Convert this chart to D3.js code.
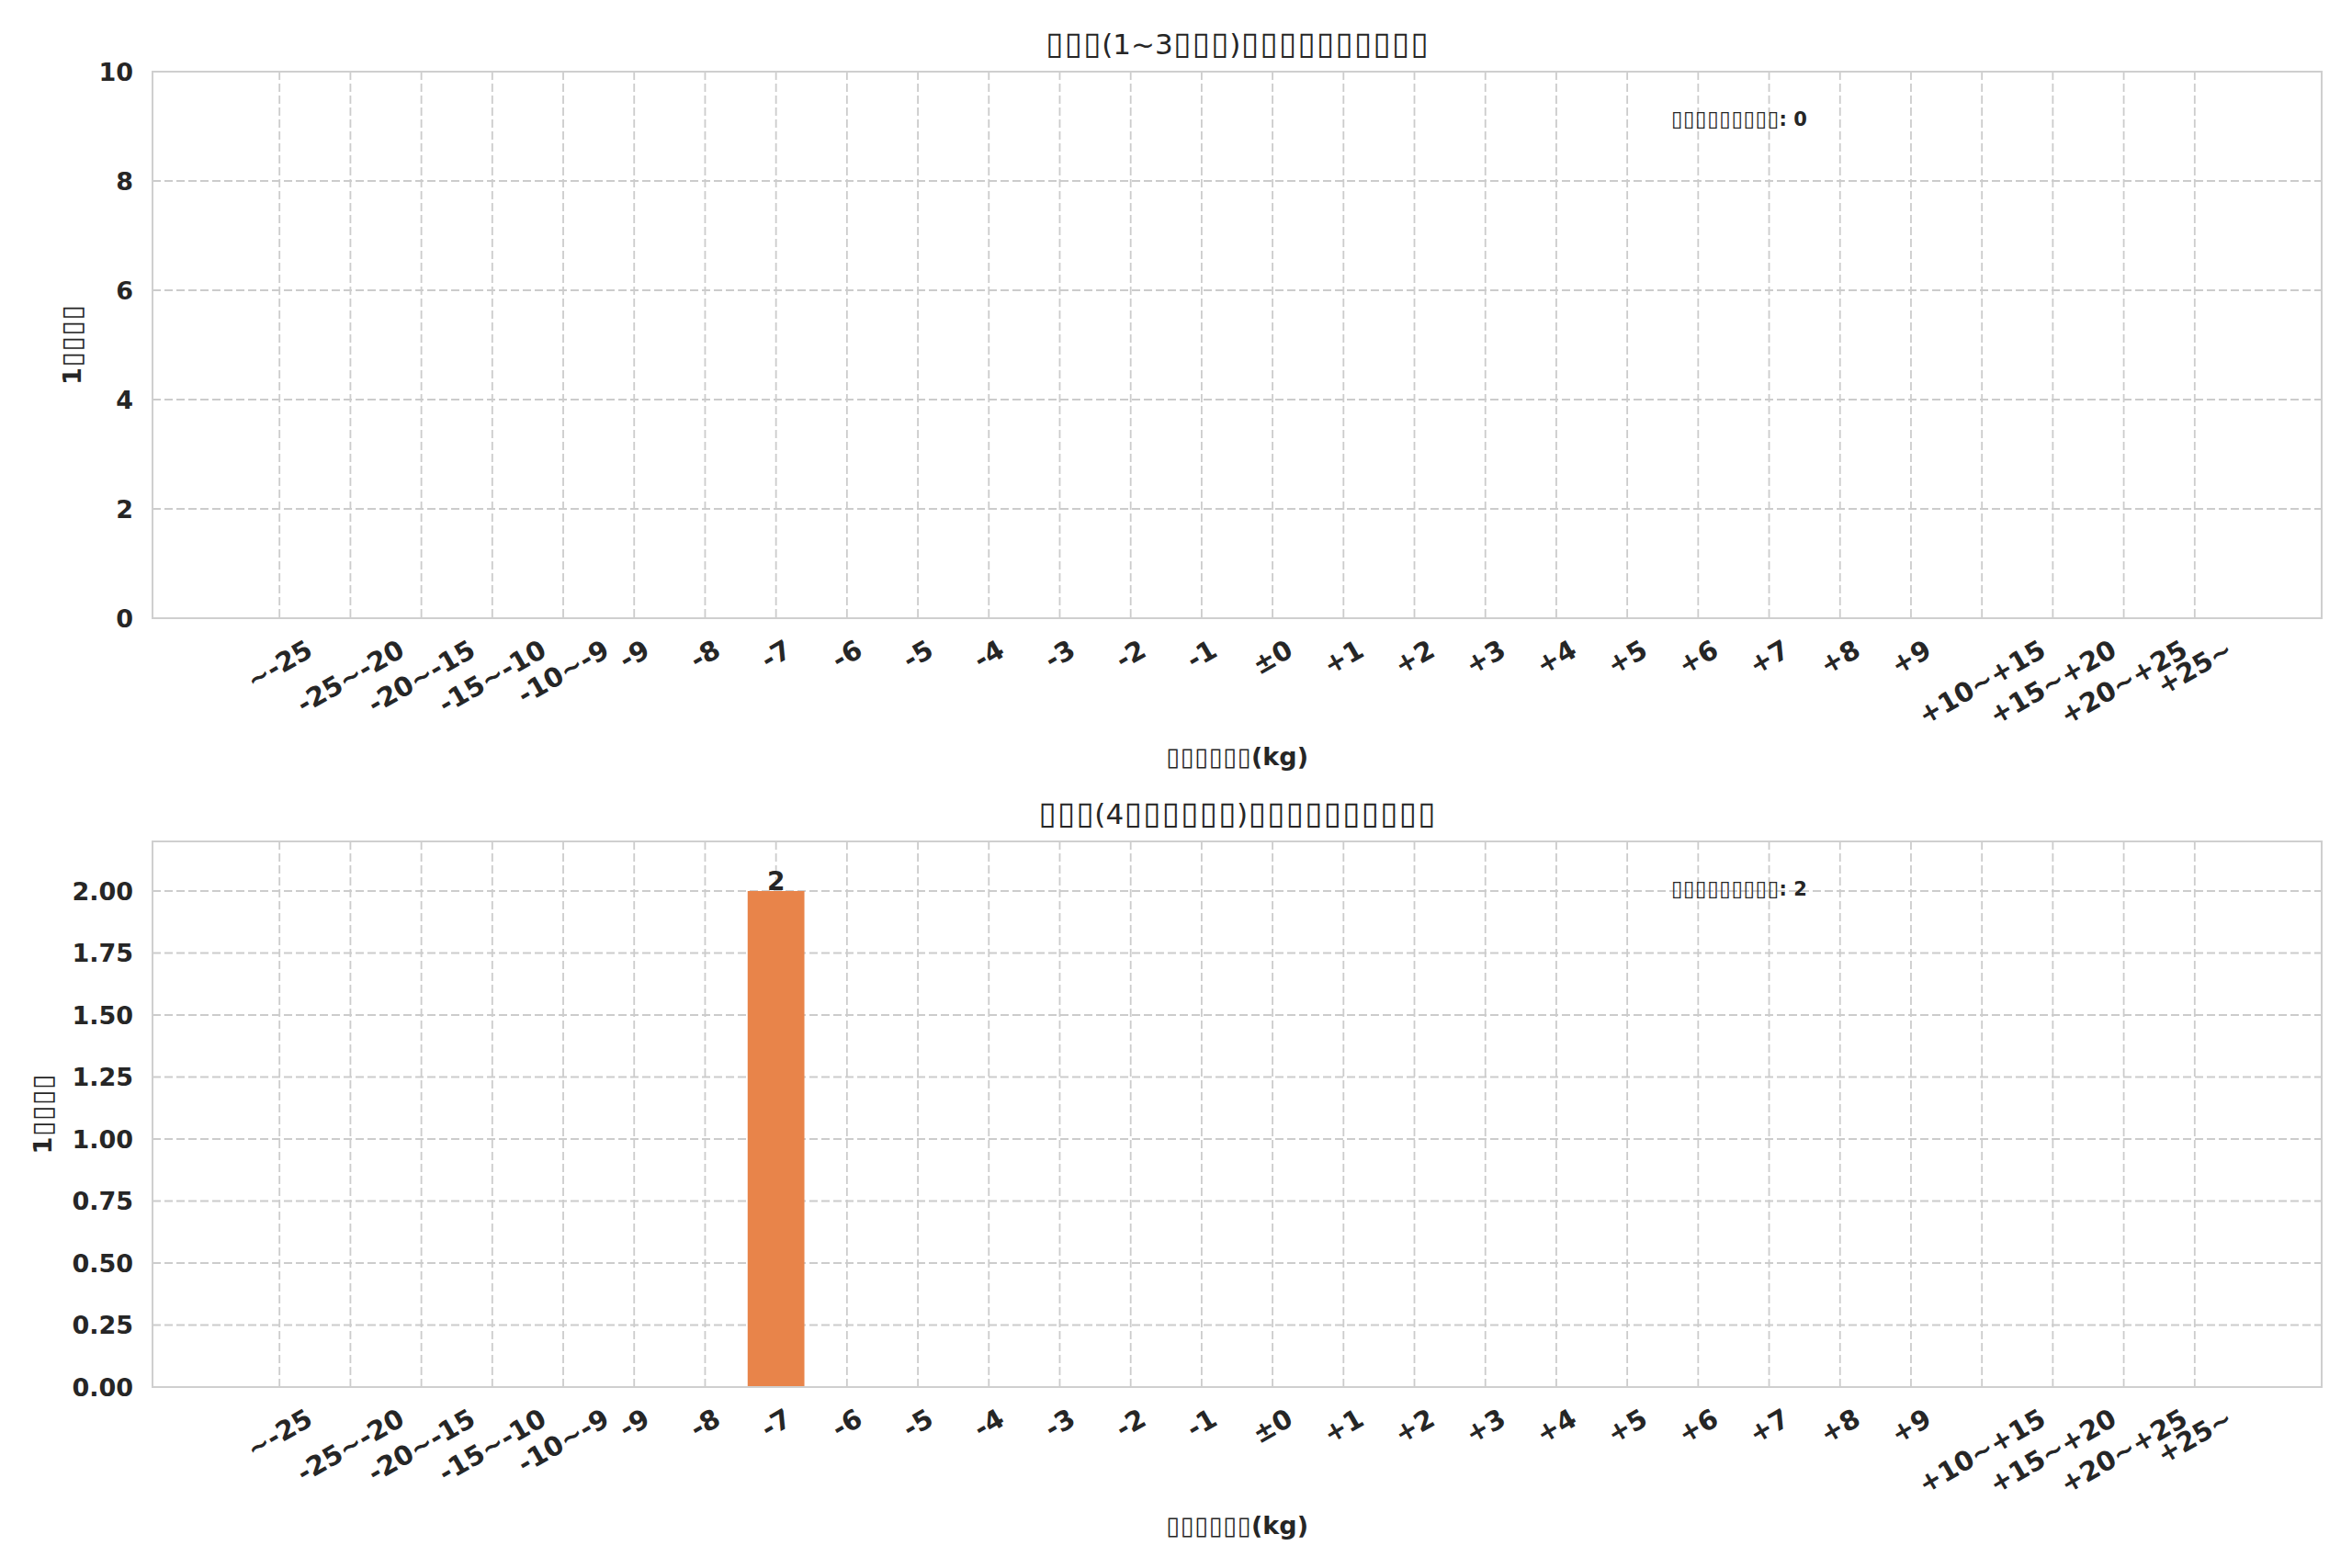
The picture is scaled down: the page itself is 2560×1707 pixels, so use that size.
<!DOCTYPE html>
<html><head><meta charset="utf-8">
<script src="https://cdn.jsdelivr.net/npm/d3@7"></script>
<style>
body{margin:0;background:#fff}
text{font-family:"DejaVu Sans",sans-serif;fill:#262626}
</style>
</head><body>
<svg id="c" width="2560" height="1707"></svg>
<script>
// ---------- data ----------
const categories = ["~-25","-25~-20","-20~-15","-15~-10","-10~-9","-9","-8","-7","-6","-5","-4","-3","-2","-1","±0","+1","+2","+3","+4","+5","+6","+7","+8","+9","+10~+15","+15~+20","+20~+25","+25~"];
const countsEarly = [0,0,0,0,0,0,0,0,0,0,0,0,0,0,0,0,0,0,0,0,0,0,0,0,0,0,0,0];
const countsLate  = [0,0,0,0,0,0,0,2,0,0,0,0,0,0,0,0,0,0,0,0,0,0,0,0,0,0,0,0];
const yTicksEarly = [0,2,4,6,8,10];
const yTicksLate  = [0,0.25,0.5,0.75,1.0,1.25,1.5,1.75,2.0];
const yMaxEarly = 10, yMaxLate = 2.2;
const titleEarly = "▯▯▯(1~3▯▯▯)▯▯▯▯▯▯▯▯▯▯";
const titleLate  = "▯▯▯(4▯▯▯▯▯▯)▯▯▯▯▯▯▯▯▯▯";
const xLabelText = "▯▯▯▯▯▯(kg)";
const yLabelText = "1▯▯▯▯";
const noteEarly = "▯▯▯▯▯▯▯▯▯: 0";
const noteLate  = "▯▯▯▯▯▯▯▯▯: 2";

// ---------- drawing ----------
const svg = d3.select("#c");
const L = 166, R = 2527;
const panels = [
  {top:78, bottom:673, counts:countsEarly, ticks:yTicksEarly, ymax:yMaxEarly, fmt:d3.format("d"), title:titleEarly, note:noteEarly, ylabX:78},
  {top:916, bottom:1510, counts:countsLate, ticks:yTicksLate, ymax:yMaxLate, fmt:d3.format(".2f"), title:titleLate, note:noteLate, ylabX:46}
];
const barColor = "#e8844a";
const gridColor = "#cccccc";

function measure(str, size, weight){
  const t = svg.append("text").attr("font-size",size).attr("font-weight",weight).text(str);
  const w = t.node().getComputedTextLength();
  t.remove();
  return w;
}
// text whose "▯" runs (missing-glyph boxes in the original) get a fixed advance
function richText(g, str, o){
  const runs = str.match(/▯+|[^▯]+/g);
  const nat = measure("▯▯▯▯▯▯▯▯▯▯", o.boxFs, "normal")/10;
  const widths = runs.map(r => r[0]==="▯" ? r.length*o.boxAdv : measure(r, o.fs, o.weight));
  const total = d3.sum(widths);
  let cur = o.anchor==="middle" ? -total/2 : 0;
  const t = g.append("text").attr("transform", o.transform)
    .attr("font-size", o.fs).attr("font-weight", o.weight);
  runs.forEach((r,k)=>{
    const s = t.append("tspan").attr("y", o.dy).text(r);
    if(r[0]==="▯"){
      const ls = o.boxAdv - nat;
      s.attr("x", cur + ls/2).attr("font-size", o.boxFs).attr("font-weight","normal")
       .style("letter-spacing", ls+"px");
    } else {
      s.attr("x", cur);
    }
    cur += widths[k];
  });
  return t;
}

const x = d3.scaleLinear().domain([-1.79, 28.79]).range([L, R]);
const bw = x(0.8) - x(0);

panels.forEach(p=>{
  const y = d3.scaleLinear().domain([0, p.ymax]).range([p.bottom, p.top]);
  const g = svg.append("g");

  // grid
  g.append("g").selectAll("line").data(p.ticks).join("line")
    .attr("x1",L).attr("x2",R).attr("y1",d=>y(d)).attr("y2",d=>y(d))
    .attr("stroke",gridColor).attr("stroke-width",1.8).attr("stroke-dasharray","9,4");
  g.append("g").selectAll("line").data(categories).join("line")
    .attr("x1",(d,i)=>x(i)).attr("x2",(d,i)=>x(i)).attr("y1",p.top).attr("y2",p.bottom)
    .attr("stroke",gridColor).attr("stroke-width",1.8).attr("stroke-dasharray","9,4");

  // bars
  g.append("g").selectAll("rect").data(p.counts).join("rect")
    .attr("x",(d,i)=>x(i-0.4)).attr("width",bw)
    .attr("y",d=>y(d)).attr("height",d=>y(0)-y(d))
    .attr("fill",barColor);

  // bar value labels
  g.append("g").selectAll("text").data(p.counts.map((v,i)=>({v,i})).filter(d=>d.v>0)).join("text")
    .attr("x",d=>x(d.i)).attr("y",d=>y(d.v)-1)
    .attr("text-anchor","middle").attr("font-size",28).attr("font-weight","bold")
    .text(d=>d.v);

  // frame
  g.append("rect").attr("x",L).attr("y",p.top).attr("width",R-L).attr("height",p.bottom-p.top)
    .attr("fill","none").attr("stroke","#cfcfcf").attr("stroke-width",2);

  // y tick labels
  g.append("g").selectAll("text").data(p.ticks).join("text")
    .attr("x",L-21).attr("y",d=>y(d)).attr("dy","0.36em")
    .attr("text-anchor","end").attr("font-size",27).attr("font-weight","bold")
    .text(d=>p.fmt(d));

  // x tick labels, rotated 30 degrees and centred like matplotlib
  const xt = g.append("g").selectAll("text").data(categories).join("text")
    .attr("text-anchor","middle").attr("font-size",29).attr("font-weight","bold")
    .attr("dy","0.34em").text(d=>d);
  xt.each(function(d,i){
    const w = this.getComputedTextLength();
    const H = w*0.5 + 33.5*0.866;
    const cy = p.bottom + 17 + H/2;
    d3.select(this).attr("transform",`translate(${x(i)},${cy}) rotate(-30)`);
  });

  // title
  richText(g, p.title, {transform:`translate(${(L+R)/2},${p.top-19})`, anchor:"middle",
    fs:31, weight:"normal", boxAdv:20.5, boxFs:35, dy:0});
  // x label
  richText(g, xLabelText, {transform:`translate(${(L+R)/2},${p.bottom+160})`, anchor:"middle",
    fs:27, weight:"bold", boxAdv:15.5, boxFs:27, dy:0});
  // y label
  richText(g, yLabelText, {transform:`translate(${p.ylabX},${(p.top+p.bottom)/2}) rotate(-90)`, anchor:"middle",
    fs:27, weight:"bold", boxAdv:17, boxFs:30, dy:9.5});
  // note
  richText(g, p.note, {transform:`translate(${L+0.70*(R-L)},${p.top+51})`, anchor:"start",
    fs:21, weight:"bold", boxAdv:13.1, boxFs:23, dy:7.5});
});
</script>
</body></html>
